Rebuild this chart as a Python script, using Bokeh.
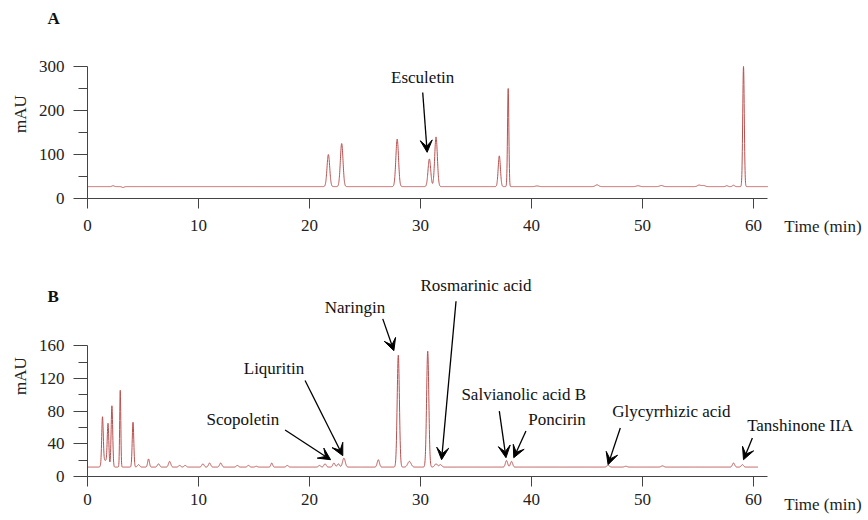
import numpy as np
from bokeh.plotting import figure
from bokeh.models import (ColumnDataSource, FixedTicker, LabelSet, Arrow,
                          VeeHead, Range1d, Title)
from bokeh.layouts import column
from bokeh.embed import file_html
from bokeh.resources import INLINE

# ---------------- data ----------------
# Panel A: standard mixture
baseline_A = 27.0
rt_A = [2.3, 3.2, 21.7, 22.9, 27.9, 30.8, 31.4, 37.1, 37.9, 40.5, 45.9, 49.6, 51.7, 55.1, 55.5, 57.6, 58.2, 59.1]
height_A = [2, -2, 73, 98, 108, 63, 113, 70, 223, 1.5, 4, 2, 2.5, 3.5, 2.5, 2, 3, 273]
width_A = [0.1, 0.1, 0.12, 0.12, 0.12, 0.12, 0.12, 0.1, 0.06, 0.15, 0.15, 0.15, 0.15, 0.15, 0.15, 0.1, 0.1, 0.07]
end_A = 61.3

# Panel B: sample
baseline_B = 11.5
rt_B = [1.35, 1.6, 1.85, 2.2, 2.95, 4.1, 4.6, 5.5, 6.4, 7.4, 8.3, 8.8, 10.4, 11.0, 12.0, 13.5, 14.5, 15.2,
        16.6, 18.0, 20.9, 21.4, 22.2, 22.6, 23.1, 26.2, 28.0, 29.0, 30.65, 31.4, 31.8, 37.75, 38.2,
        46.9, 48.5, 51.8, 58.2, 59.0]
height_B = [58, 8, 50, 75, 94, 55, 3, 10, 4, 7, 2, 2, 4, 5, 5, 2, 2, 1,
            5, 2, 2, 4, 5, 4, 11, 9, 137, 7, 142, 4, 3, 8, 7,
            2, 1, 1.5, 5, 3]
width_B = [0.07, 0.2, 0.07, 0.07, 0.05, 0.07, 0.1, 0.08, 0.1, 0.1, 0.1, 0.1, 0.1, 0.1, 0.1, 0.1, 0.1, 0.1,
           0.08, 0.1, 0.1, 0.1, 0.1, 0.1, 0.12, 0.1, 0.1, 0.15, 0.1, 0.12, 0.12, 0.1, 0.1,
           0.12, 0.12, 0.12, 0.1, 0.1]
end_B = 60.4

# annotations (text centre, arrow start, arrow tip) in data units
ann_A_names = ["Esculetin"]
ann_A_text_x = [30.2]
ann_A_text_y = [275]
ann_A_x0 = [30.2]
ann_A_y0 = [241]
ann_A_x1 = [30.6]
ann_A_y1 = [105]

ann_B_names = ["Scopoletin", "Liquritin", "Naringin", "Rosmarinic acid", "Salvianolic acid B",
               "Poncirin", "Glycyrrhizic acid", "Tanshinone IIA"]
ann_B_text_x = [14.0, 16.8, 24.1, 35.0, 39.3, 42.3, 52.6, 64.2]
ann_B_text_y = [70, 132, 207, 234, 100.6, 70, 80, 63]
ann_B_x0 = [17.8, 19.6, 26.6, 33.2, 37.1, 39.5, 48.0, 59.9]
ann_B_y0 = [57, 117.6, 193, 214.5, 80, 55.8, 59.4, 47]
ann_B_x1 = [21.9, 23.0, 27.6, 31.9, 37.7, 38.4, 46.9, 59.1]
ann_B_y1 = [20.6, 25.5, 154, 20.6, 23, 23, 14.5, 20.6]

x_ticks = [0, 10, 20, 30, 40, 50, 60]
x_axis_end = 61.3
x_title = "Time (min)"
y_ticks_A = [0, 100, 200, 300]
y_minor_A = [50, 150, 250]
y_ticks_B = [0, 40, 80, 120, 160]
y_minor_B = [20, 60, 100, 140]

FONT = "Liberation Serif"
LINE = "#b9504e"
PX_PER_MIN = 11.1
# the axis title is centred on the frame's right edge; non-breaking spaces
# after it move its visible part left so that it ends at that edge
TITLE_PAD = "\u00a0" * 20


def trace(rt, h, w, base, end):
    t = np.arange(0, end + 1e-9, 0.01)
    y = np.full_like(t, base)
    for r, hh, ww in zip(rt, h, w):
        y += hh * np.exp(-0.5 * ((t - r) / ww) ** 2)
    return t, y


def make_panel(height, top, bottom, y_end, yticks, yminor, ybound, label_std,
               letter, letter_std, time_std):
    width = 865
    left = 87
    right = 0
    x_end = (width - left - right) / PX_PER_MIN
    p = figure(width=width, height=height, output_backend="svg", toolbar_location=None,
               x_range=Range1d(0, x_end), y_range=Range1d(0, y_end),
               min_border_left=left, min_border_right=right, min_border_top=top,
               min_border_bottom=bottom)
    p.outline_line_color = None
    p.grid.visible = False
    p.background_fill_color = "white"
    p.border_fill_color = "white"
    for ax in (p.xaxis[0], p.yaxis[0]):
        ax.axis_line_color = "#444444"
        ax.major_tick_line_color = "#444444"
        ax.minor_tick_line_color = "#444444"
        ax.major_tick_in = 0
        ax.minor_tick_in = 0
        ax.major_label_text_font = FONT
        ax.major_label_text_font_size = "17px"
        ax.major_label_text_color = "#222222"
    xa = p.xaxis[0]
    xa.ticker = FixedTicker(ticks=x_ticks, minor_ticks=[])
    xa.bounds = (0, x_axis_end)
    xa.major_tick_out = 10
    xa.major_label_standoff = label_std
    xa.axis_label = x_title + TITLE_PAD
    xa.axis_label_text_font = FONT
    xa.axis_label_text_font_size = "17px"
    xa.axis_label_text_font_style = "normal"
    xa.axis_label_text_color = "#222222"
    xa.axis_label_standoff = time_std
    xa.axis_label_align = "end"
    p.yaxis.ticker = FixedTicker(ticks=yticks, minor_ticks=yminor)
    p.yaxis.bounds = ybound
    p.yaxis.major_tick_out = 14
    p.yaxis.minor_tick_out = 9
    p.yaxis.major_label_standoff = 9
    p.yaxis.axis_label = "mAU"
    p.yaxis.axis_label_text_font = FONT
    p.yaxis.axis_label_text_font_size = "17px"
    p.yaxis.axis_label_text_font_style = "normal"
    p.yaxis.axis_label_text_color = "#222222"
    p.yaxis.axis_label_standoff = 6
    # panel letter
    p.add_layout(Title(text=letter, align="left", offset=-40, standoff=letter_std,
                       text_font=FONT, text_font_size="17px", text_font_style="bold",
                       text_color="#111111"), "above")
    return p


def annotate(p, names, tx, ty, x0, y0, x1, y1):
    src = ColumnDataSource(dict(name=names, tx=tx, ty=ty, x0=x0, y0=y0, x1=x1, y1=y1))
    p.add_layout(LabelSet(x="tx", y="ty", text="name", source=src, text_align="center",
                          text_baseline="middle", text_font=FONT, text_font_size="17px",
                          text_color="#111111"))
    p.add_layout(Arrow(x_start="x0", y_start="y0", x_end="x1", y_end="y1", source=src,
                       line_width=1.3, line_color="black",
                       end=VeeHead(size=12, fill_color="black", line_color="black")))


# ---------------- panel A ----------------
pA = make_panel(270, 29, 72, 169 / 0.44, y_ticks_A, y_minor_A, (0, 300), 11, "A", 4, -17)
tA, yA = trace(rt_A, height_A, width_A, baseline_A, end_A)
pA.line(tA, yA, line_color=LINE, line_width=1)
annotate(pA, ann_A_names, ann_A_text_x, ann_A_text_y, ann_A_x0, ann_A_y0, ann_A_x1, ann_A_y1)

# ---------------- panel B ----------------
pB = make_panel(246, 5, 38, 203 / 0.825, y_ticks_B, y_minor_B, (0, 160), 7, "B", -60, -13)
tB, yB = trace(rt_B, height_B, width_B, baseline_B, end_B)
pB.line(tB, yB, line_color=LINE, line_width=1)
annotate(pB, ann_B_names, ann_B_text_x, ann_B_text_y, ann_B_x0, ann_B_y0, ann_B_x1, ann_B_y1)

layout = column(pA, pB, spacing=0)
open("out.html", "w").write(file_html(layout, INLINE))
